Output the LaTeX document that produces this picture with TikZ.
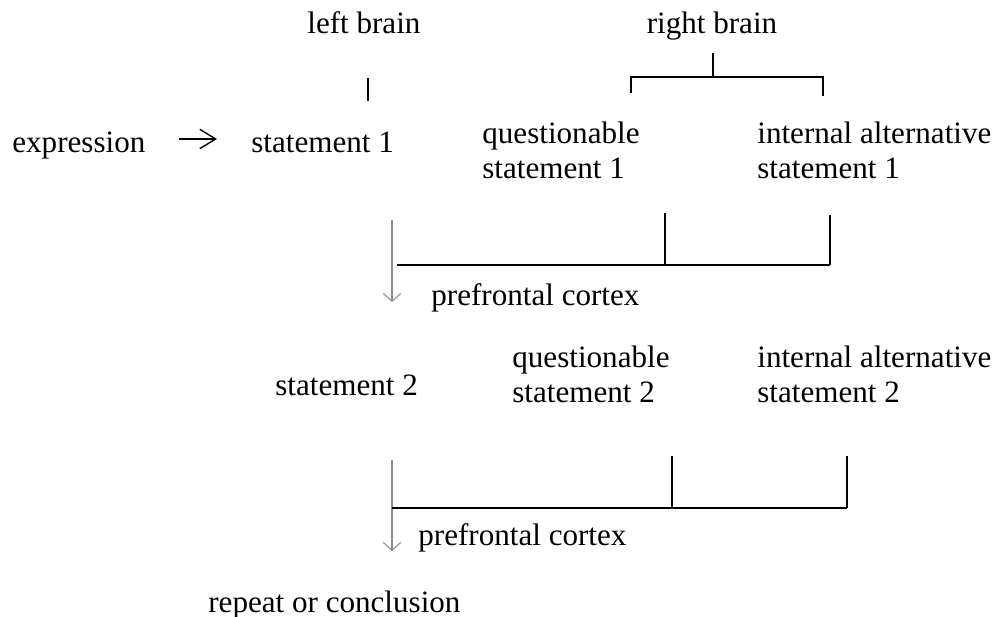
\documentclass[tikz,border=0pt]{standalone}
\usepackage{fontspec}
\setmainfont{Liberation Serif}
\usetikzlibrary{arrows.meta}
\begin{document}
\begin{tikzpicture}[x=0.02cm,y=-0.02cm,
  lbl/.style={inner sep=0pt,anchor=base west,align=left,font=\fontsize{17.7}{20}\selectfont},
  blk/.style={line width=0.9pt,black},
  flow/.style={line width=0.6pt,black!45,-{Straight Barb[length=4.5pt,width=10pt,line width=0.6pt]}},
  into/.style={line width=0.8pt,black,-{Straight Barb[length=9pt,width=11pt,line width=0.8pt]}}]
\useasboundingbox (0,0) rectangle (1000,617);
% labels (multi-line labels are anchored at the baseline of their last line)
\node[lbl] (lb) at (307,34) {left brain};
\node[lbl,anchor=base] (rb) at (712,34) {right brain};
\node[lbl] (expr) at (12,153) {expression};
\node[lbl] (s1) at (251,153) {statement 1};
\node[lbl] (q1) at (482,179) {questionable\\statement 1};
\node[lbl] (a1) at (757,179) {internal alternative\\statement 1};
\node[lbl] (pf1) at (431,306) {prefrontal cortex};
\node[lbl] (s2) at (275,396) {statement 2};
\node[lbl] (q2) at (512,403) {questionable\\statement 2};
\node[lbl] (a2) at (757,403) {internal alternative\\statement 2};
\node[lbl] (pf2) at (418,545) {prefrontal cortex};
\node[lbl] (rc) at (208,612) {repeat or conclusion};
% coordinates
\coordinate (lbt) at (368,78);
\coordinate (lbb) at (368,101);
\coordinate (rbt) at (713,53);
\coordinate (rbm) at (713,77);
\coordinate (rbl) at (631,93);
\coordinate (rbr) at (823,96);
\coordinate (ea) at (179,139);
\coordinate (eb) at (217,139);
\coordinate (f1a) at (392,220);
\coordinate (f1b) at (392,302);
\coordinate (h1l) at (397,265);
\coordinate (h1m) at (665,265);
\coordinate (h1r) at (830,265);
\coordinate (v1m) at (665,213);
\coordinate (v1r) at (830,215);
\coordinate (f2a) at (392,460);
\coordinate (f2b) at (392,551);
\coordinate (h2l) at (392,508);
\coordinate (h2m) at (672,508);
\coordinate (h2r) at (847,508);
\coordinate (v2m) at (672,456);
\coordinate (v2r) at (847,456);
% lines
\draw[blk] (lbt) -- (lbb);
\draw[blk] (rbt) -- (rbm);
\draw[blk] (rbl) |- (rbm) -| (rbr);
\draw[into] (ea) -- (eb);
\draw[flow] (f1a) -- (f1b);
\draw[blk] (h1l) -- (h1r);
\draw[blk] (v1m) -- (h1m);
\draw[blk] (v1r) -- (h1r);
\draw[flow] (f2a) -- (f2b);
\draw[blk] (h2l) -- (h2r);
\draw[blk] (v2m) -- (h2m);
\draw[blk] (v2r) -- (h2r);
\end{tikzpicture}
\end{document}
